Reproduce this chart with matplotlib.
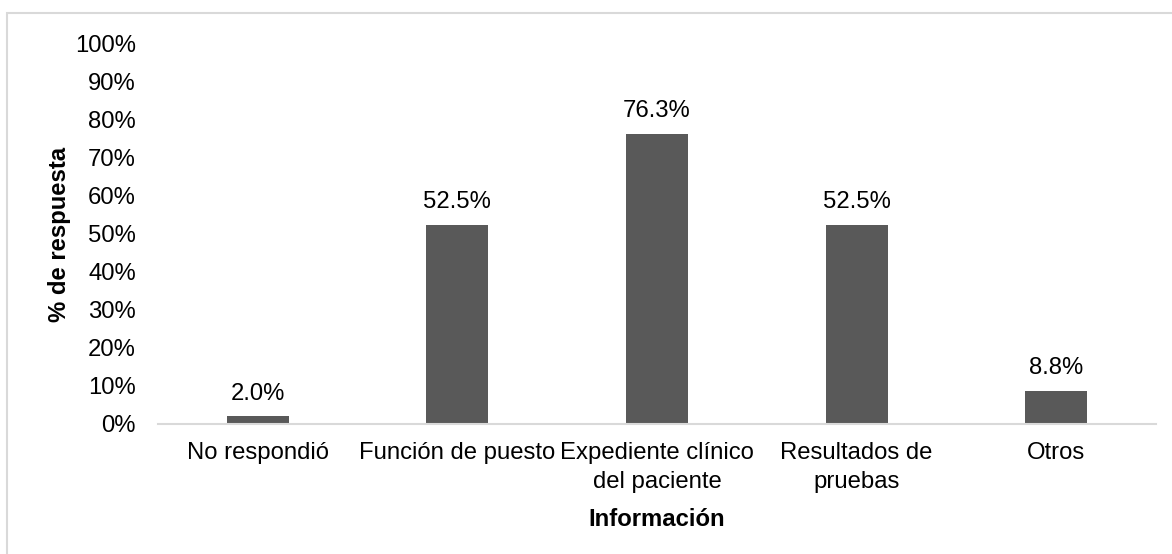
import matplotlib.pyplot as plt
from matplotlib.patches import Rectangle
from matplotlib.ticker import PercentFormatter

plt.rcParams['font.family'] = ['Liberation Sans', 'DejaVu Sans']

categories = ["No respondió", "Función de puesto", "Expediente clínico\ndel paciente",
              "Resultados de\npruebas", "Otros"]
values = [2.0, 52.5, 76.3, 52.5, 8.8]
yticks = list(range(0, 101, 10))

FS = 17.2

fig = plt.figure(figsize=(11.72, 5.54), dpi=100)
ax = fig.add_axes([158 / 1172, 1 - 424 / 554, 998 / 1172, 380 / 554])

# light frame around the whole chart area
fig.patches.append(Rectangle((7 / 1172, -0.1), 1.2, 1 - 13 / 554 + 0.1,
                             transform=fig.transFigure, fill=False,
                             edgecolor='#d9d9d9', linewidth=1.5))

x = range(len(categories))
bars = ax.bar(x, values, width=0.31, color='#595959')
for b, v in zip(bars, values):
    ax.annotate(f"{v:.1f}%", (b.get_x() + b.get_width() / 2, v),
                xytext=(0, 12), textcoords='offset points',
                ha='center', va='baseline', fontsize=FS)

ax.set_xlim(-0.5, len(categories) - 0.5)
ax.set_ylim(0, 100)
ax.set_yticks(yticks)
ax.yaxis.set_major_formatter(PercentFormatter(decimals=0))
ax.set_xticks(list(x))
ax.set_xticklabels(categories, linespacing=1.4)
ax.tick_params(axis='both', length=0, labelsize=FS)
ax.tick_params(axis='y', pad=16)
ax.tick_params(axis='x', pad=13)

for side in ['top', 'right', 'left']:
    ax.spines[side].set_visible(False)
ax.spines['bottom'].set_color('#d9d9d9')
ax.spines['bottom'].set_linewidth(1.5)

ax.set_xlabel("Información", fontsize=FS, fontweight='bold', labelpad=11)
ax.set_ylabel("% de respuesta", fontsize=FS, fontweight='bold', labelpad=3)

fig.savefig('out.png', dpi=100)
